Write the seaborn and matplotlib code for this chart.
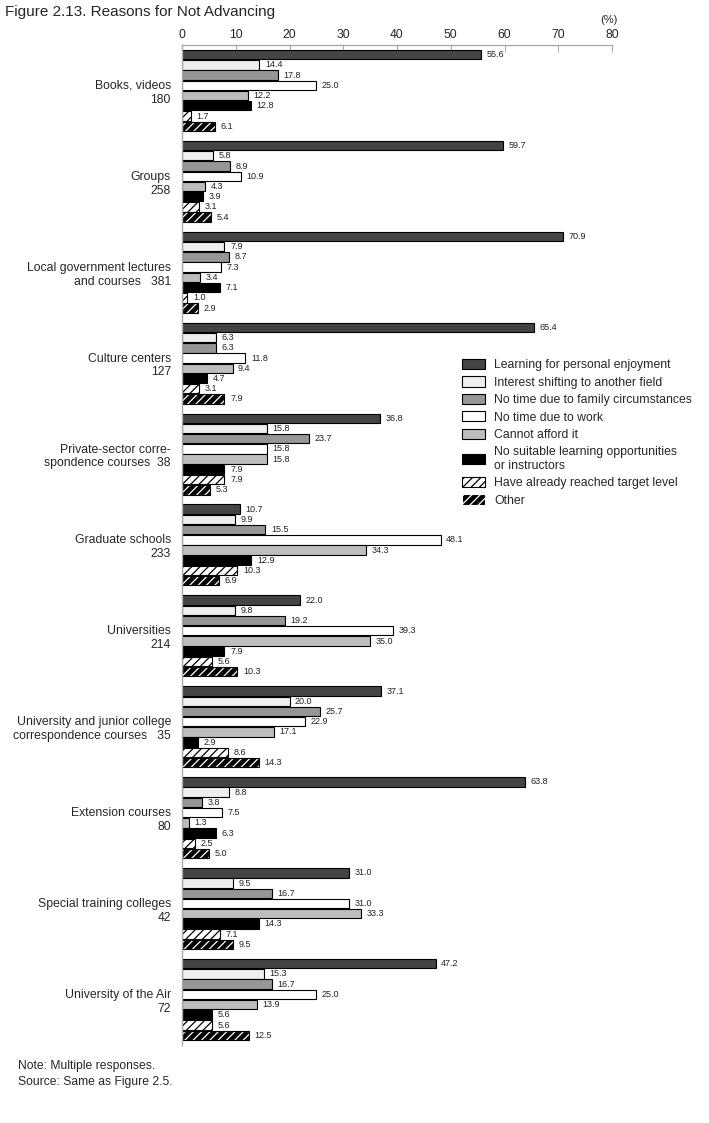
import matplotlib
matplotlib.use("Agg")
import matplotlib.pyplot as plt
from matplotlib.patches import Rectangle, Patch
import seaborn as sns
import pandas as pd

categories = [
    "Books, videos\n180",
    "Groups\n258",
    "Local government lectures\nand courses   381",
    "Culture centers\n127",
    "Private-sector corre-\nspondence courses  38",
    "Graduate schools\n233",
    "Universities\n214",
    "University and junior college\ncorrespondence courses   35",
    "Extension courses\n80",
    "Special training colleges\n42",
    "University of the Air\n72",
]
reasons = [
    "Learning for personal enjoyment",
    "Interest shifting to another field",
    "No time due to family circumstances",
    "No time due to work",
    "Cannot afford it",
    "No suitable learning opportunities\nor instructors",
    "Have already reached target level",
    "Other",
]
enjoyment = [55.6, 59.7, 70.9, 65.4, 36.8, 10.7, 22.0, 37.1, 63.8, 31.0, 47.2]
interest = [14.4, 5.8, 7.9, 6.3, 15.8, 9.9, 9.8, 20.0, 8.8, 9.5, 15.3]
family = [17.8, 8.9, 8.7, 6.3, 23.7, 15.5, 19.2, 25.7, 3.8, 16.7, 16.7]
work = [25.0, 10.9, 7.3, 11.8, 15.8, 48.1, 39.3, 22.9, 7.5, 31.0, 25.0]
afford = [12.2, 4.3, 3.4, 9.4, 15.8, 34.3, 35.0, 17.1, 1.3, 33.3, 13.9]
no_suitable = [12.8, 3.9, 7.1, 4.7, 7.9, 12.9, 7.9, 2.9, 6.3, 14.3, 5.6]
reached = [1.7, 3.1, 1.0, 3.1, 7.9, 10.3, 5.6, 8.6, 2.5, 7.1, 5.6]
other = [6.1, 5.4, 2.9, 7.9, 5.3, 6.9, 10.3, 14.3, 5.0, 9.5, 12.5]
xticks = [0, 10, 20, 30, 40, 50, 60, 70, 80]

series = [enjoyment, interest, family, work, afford, no_suitable, reached, other]
colors = ["#444444", "#eeeeee", "#969696", "#ffffff", "#bdbdbd", "#000000", "#ffffff", "#000000"]

rows = []
for r, vals in zip(reasons, series):
    for c, v in zip(categories, vals):
        rows.append({"category": c, "reason": r, "value": v})
df = pd.DataFrame(rows)

sns.set_style("white")
plt.rcParams["font.family"] = ["Liberation Sans", "DejaVu Sans"]
plt.rcParams["hatch.linewidth"] = 0.9

fig = plt.figure(figsize=(7.09, 11.23), dpi=100)
ax = fig.add_axes([182 / 709, 1 - 1045 / 1123, (612 - 182) / 709, (1045 - 45) / 1123])

sns.barplot(data=df, y="category", x="value", hue="reason", orient="h",
            order=categories, hue_order=reasons, palette=colors,
            width=0.9, gap=0.08, edgecolor="black", linewidth=0.8,
            legend=False, ax=ax)

# hatches
for p in ax.containers[6].patches:
    p.set_hatch("////")
for p in ax.containers[7].patches:
    p.set_hatch("////")
    p.set_edgecolor("white")
    ax.add_patch(Rectangle(p.get_xy(), p.get_width(), p.get_height(),
                           fill=False, edgecolor="black", linewidth=0.8, zorder=p.get_zorder() + 0.1))

for cont in ax.containers:
    ax.bar_label(cont, fmt="%.1f", padding=4, fontsize=6.5, color="#222222")

ax.set_xlim(0, 80)
ax.set_ylim(10.5, -0.5)
ax.set_xticks(xticks)
ax.xaxis.tick_top()
ax.tick_params(axis="x", direction="in", length=5, color="#aaaaaa", labelsize=8.8, pad=3)
ax.tick_params(axis="y", length=0, labelsize=8.8, pad=8)
ax.set_xlabel("")
ax.set_ylabel("")
for s in ["right", "bottom"]:
    ax.spines[s].set_visible(False)
for s in ["top", "left"]:
    ax.spines[s].set_color("#aaaaaa")
    ax.spines[s].set_linewidth(1.0)

# legend
handles = []
for r, c in zip(reasons, colors):
    handles.append(Patch(facecolor=c, edgecolor="black", linewidth=0.8, label=r))
handles[6].set_hatch("////")
handles[7].set_hatch("////")
handles[7].set_edgecolor("white")
leg = fig.legend(handles=handles, loc="upper left", bbox_to_anchor=(451 / 709, 1 - 348 / 1123),
                 frameon=False, fontsize=8.8, handlelength=1.9, handleheight=0.9,
                 handletextpad=0.75, labelspacing=0.42)

fig.text(5 / 709, 1 - 12 / 1123, "Figure 2.13. Reasons for Not Advancing", fontsize=11,
         va="center", ha="left")
fig.text(618 / 709, 1 - 20 / 1123, "(%)", fontsize=8, va="center", ha="right")
fig.text(18 / 709, 1 - 1066 / 1123, "Note: Multiple responses.", fontsize=8.7, va="center", ha="left")
fig.text(18 / 709, 1 - 1082 / 1123, "Source: Same as Figure 2.5.", fontsize=8.7, va="center", ha="left")

fig.savefig("out.png", dpi=100)
